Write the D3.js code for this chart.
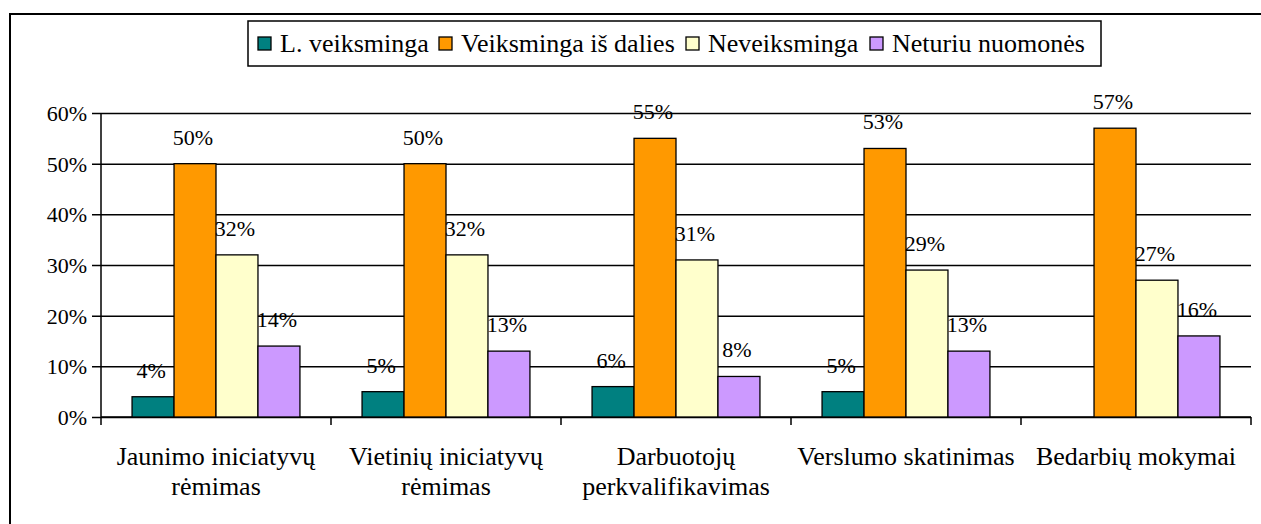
<!DOCTYPE html>
<html>
<head>
<meta charset="utf-8">
<script src="https://cdn.jsdelivr.net/npm/d3@7"></script>
</head>
<body style="margin:0">
<svg id="chart" width="1261" height="524" font-family="Tinos, 'Liberation Serif', FreeSerif, serif"></svg>
<script>
// chart values
const categories = ["Jaunimo iniciatyvų rėmimas", "Vietinių iniciatyvų rėmimas", "Darbuotojų perkvalifikavimas", "Verslumo skatinimas", "Bedarbių mokymai"];
const categoryLines = [["Jaunimo iniciatyvų", "rėmimas"], ["Vietinių iniciatyvų", "rėmimas"], ["Darbuotojų", "perkvalifikavimas"], ["Verslumo skatinimas"], ["Bedarbių mokymai"]];
const seriesNames = ["L. veiksminga", "Veiksminga iš dalies", "Neveiksminga", "Neturiu nuomonės"];
const lVeiksminga = [4, 5, 6, 5, null];
const veiksmingaIsDalies = [50, 50, 55, 53, 57];
const neveiksminga = [32, 32, 31, 29, 27];
const neturiuNuomones = [14, 13, 8, 13, 16];
const yTicks = [0, 10, 20, 30, 40, 50, 60];
const colors = ["#008080", "#FF9900", "#FFFFCC", "#CC99FF"];

const seriesValues = [lVeiksminga, veiksmingaIsDalies, neveiksminga, neturiuNuomones];

const FONT = "Tinos, 'Liberation Serif', FreeSerif, serif";
const width = 1261, height = 524;
const margin = { top: 113, right: 10, bottom: 107, left: 101 };

const svg = d3.select("#chart");

// outer frame (only top and left edges are visible)
svg.append("path")
    .attr("d", `M10,${height} L10,14 L${width},14`)
    .attr("fill", "none")
    .attr("stroke", "#000")
    .attr("stroke-width", 2);

const x0 = d3.scaleBand()
    .domain(categories)
    .range([margin.left, width - margin.right])
    .padding(0);

const x1 = d3.scaleBand()
    .domain(seriesNames)
    .range([0, x0.bandwidth()])
    .paddingInner(0)
    .paddingOuter(0.74);

const y = d3.scaleLinear()
    .domain([0, 60])
    .range([height - margin.bottom, margin.top]);

// gridlines + y axis
const yAxis = d3.axisLeft(y)
    .tickValues(yTicks)
    .tickFormat(d => d + "%")
    .tickSize(-(width - margin.right - margin.left))
    .tickSizeOuter(0)
    .tickPadding(14);

const gy = svg.append("g")
    .attr("transform", `translate(${margin.left},0)`)
    .call(yAxis)
    .attr("font-family", FONT)
    .attr("font-size", 22);
gy.select(".domain").remove();
gy.selectAll(".tick line")
    .attr("x1", -9)
    .attr("stroke", "#000")
    .attr("stroke-width", 1.5);
gy.selectAll(".tick text")
    .attr("font-family", FONT)
    .attr("fill", "#000")
    .attr("dy", "0.34em");

// vertical axis line, extended a bit below 0
svg.append("line")
    .attr("x1", margin.left).attr("x2", margin.left)
    .attr("y1", y(60)).attr("y2", y(0) + 8)
    .attr("stroke", "#000").attr("stroke-width", 1.5);

// x axis with ticks at category boundaries
svg.append("line")
    .attr("x1", margin.left).attr("x2", width - margin.right)
    .attr("y1", y(0)).attr("y2", y(0))
    .attr("stroke", "#000").attr("stroke-width", 1.5);

svg.selectAll(".xtick")
    .data(categories.slice(1).concat([null]))
    .enter()
    .append("line")
    .attr("class", "xtick")
    .attr("x1", d => d ? x0(d) : width - margin.right)
    .attr("x2", d => d ? x0(d) : width - margin.right)
    .attr("y1", y(0))
    .attr("y2", y(0) + 8)
    .attr("stroke", "#000")
    .attr("stroke-width", 1.5);

// category labels, one text per line
categories.forEach((c, i) => {
    categoryLines[i].forEach((line, j) => {
        svg.append("text")
            .attr("x", x0(c) + x0.bandwidth() / 2)
            .attr("y", 465 + j * 30)
            .attr("text-anchor", "middle")
            .attr("font-family", FONT)
            .attr("font-size", 26)
            .text(line);
    });
});

// bars
const barData = [];
categories.forEach((c, i) => {
    seriesNames.forEach((s, k) => {
        const v = seriesValues[k][i];
        if (v != null) barData.push({ cat: c, series: s, k: k, value: v });
    });
});

svg.selectAll(".bar")
    .data(barData)
    .enter()
    .append("rect")
    .attr("class", "bar")
    .attr("x", d => x0(d.cat) + x1(d.series))
    .attr("y", d => y(d.value))
    .attr("width", x1.bandwidth())
    .attr("height", d => y(0) - y(d.value))
    .attr("fill", d => colors[d.k])
    .attr("stroke", "#000")
    .attr("stroke-width", 1.3);

// value labels
svg.selectAll(".val")
    .data(barData)
    .enter()
    .append("text")
    .attr("class", "val")
    .attr("x", d => x0(d.cat) + x1(d.series) + x1.bandwidth() / 2 - 2)
    .attr("y", d => y(d.value) - 19)
    .attr("text-anchor", "middle")
    .attr("font-family", FONT)
    .attr("font-size", 22)
    .text(d => d.value + "%");

// legend
const legendX = [258, 439, 686, 870];
svg.append("rect")
    .attr("x", 248).attr("y", 21)
    .attr("width", 853).attr("height", 45)
    .attr("fill", "#fff")
    .attr("stroke", "#000")
    .attr("stroke-width", 1.5);

seriesNames.forEach((s, k) => {
    svg.append("rect")
        .attr("x", legendX[k]).attr("y", 37)
        .attr("width", 13).attr("height", 13)
        .attr("fill", colors[k])
        .attr("stroke", "#000")
        .attr("stroke-width", 1.3);
    svg.append("text")
        .attr("x", legendX[k] + 22)
        .attr("y", 52)
        .attr("font-family", FONT)
        .attr("font-size", 26)
        .text(s);
});
</script>
</body>
</html>
